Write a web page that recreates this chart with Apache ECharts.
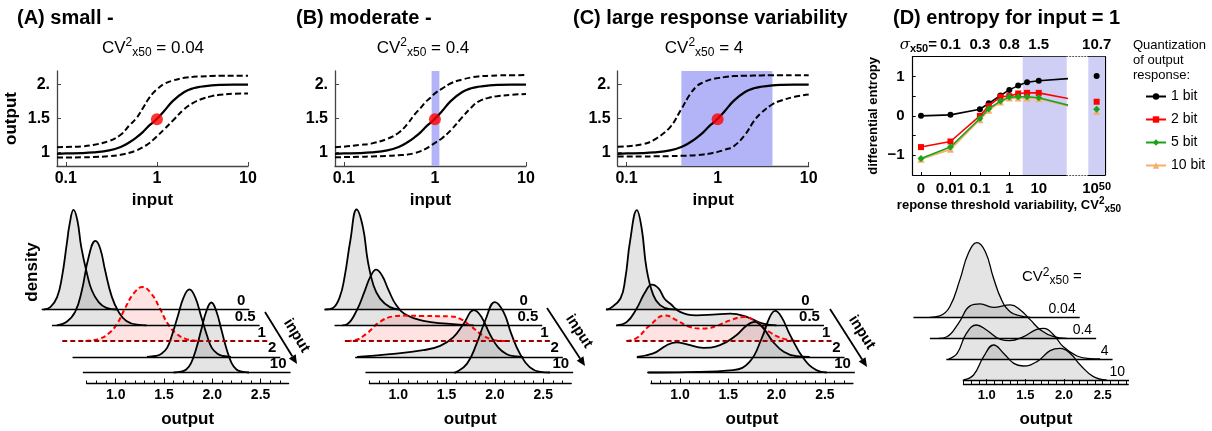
<!DOCTYPE html>
<html>
<head>
<meta charset="utf-8">
<script src="https://cdn.jsdelivr.net/npm/echarts@6/dist/echarts.min.js"></script>
<style>
  html, body { margin: 0; padding: 0; background: #fff; }
  #main { width: 1212px; height: 431px; }
</style>
</head>
<body>
<div id="main"></div>
<script>
const FONT = '"Liberation Sans", Arial, sans-serif';

// ---- top row: input -> output curves (input on a log axis) ----
const inputGrid = [0.08, 0.1, 0.15, 0.2, 0.3, 0.4, 0.5, 0.6, 0.7, 0.8, 0.9, 1, 1.2, 1.5, 2, 2.5, 3, 4, 5, 7, 10];
const solidOut = [0.98, 0.985, 0.99, 1.0, 1.03, 1.08, 1.15, 1.225, 1.3, 1.38, 1.44, 1.495, 1.61, 1.76, 1.89, 1.945, 1.968, 1.988, 1.995, 1.999, 2.0];
const upperA = [1.076, 1.08, 1.09, 1.11, 1.17, 1.26, 1.4, 1.51, 1.65, 1.78, 1.87, 1.93, 2.01, 2.06, 2.1, 2.115, 2.12, 2.127, 2.13, 2.13, 2.13];
const lowerA = [0.925, 0.926, 0.928, 0.932, 0.945, 0.965, 0.995, 1.03, 1.075, 1.125, 1.18, 1.235, 1.34, 1.47, 1.64, 1.73, 1.78, 1.83, 1.85, 1.865, 1.87];
const upperB = [1.078, 1.085, 1.11, 1.13, 1.2, 1.29, 1.42, 1.56, 1.66, 1.75, 1.81, 1.87, 1.94, 2.02, 2.075, 2.105, 2.12, 2.13, 2.135, 2.138, 2.14];
const lowerB = [0.93, 0.931, 0.935, 0.94, 0.948, 0.958, 0.968, 0.99, 1.02, 1.055, 1.1, 1.14, 1.21, 1.33, 1.52, 1.66, 1.75, 1.81, 1.83, 1.85, 1.86];
const upperC = [1.085, 1.09, 1.12, 1.185, 1.37, 1.64, 1.86, 1.985, 2.035, 2.065, 2.085, 2.095, 2.11, 2.125, 2.13, 2.133, 2.135, 2.136, 2.136, 2.137, 2.137];
const lowerC = [0.94, 0.94, 0.94, 0.942, 0.945, 0.95, 0.955, 0.962, 0.97, 0.98, 0.995, 1.008, 1.04, 1.09, 1.26, 1.46, 1.58, 1.71, 1.765, 1.82, 1.853];
const midPoint = [1, 1.49];
const bandB = [0.92, 1.12];
const bandC = [0.4, 4];
const outTickValues = [1, 1.5, 2];
const outTickLabels = ['1', '1.5', '2.'];

// ---- densities of output for each input (output, density) ----
const ridgeNames = ['0', '0.5', '1', '2', '10'];
const ridgeA0 = [[0.68,0],[0.75,0.12],[0.82,0.62],[0.87,1.62],[0.92,3.28],[0.95,4.28],[0.99,4.98],[1.03,4.45],[1.07,3.12],[1.13,1.78],[1.18,0.95],[1.25,0.37],[1.33,0.08],[1.44,0]];
const ridgeA05 = [[0.71,0],[0.81,0.17],[0.9,0.67],[0.97,1.75],[1.04,3.42],[1.11,4.22],[1.16,3.83],[1.21,2.75],[1.28,1.42],[1.35,0.67],[1.43,0.22],[1.54,0.03],[1.64,0]];
const ridgeA1 = [[0.9,0],[0.96,0.03],[1.05,0.12],[1.14,0.37],[1.23,0.88],[1.31,1.64],[1.4,2.38],[1.49,2.7],[1.58,2.38],[1.67,1.64],[1.75,0.88],[1.84,0.37],[1.93,0.12],[2.02,0.03],[2.1,0]];
const ridgeA2 = [[1.43,0],[1.52,0.04],[1.58,0.15],[1.64,0.46],[1.69,1.09],[1.75,2.04],[1.81,2.97],[1.87,3.37],[1.93,2.97],[1.99,2.04],[2.05,1.09],[2.1,0.46],[2.16,0.15],[2.22,0.04],[2.3,0]];
const ridgeA10 = [[1.6,0],[1.675,0.04],[1.73,0.15],[1.78,0.47],[1.83,1.14],[1.885,2.12],[1.94,3.09],[1.99,3.5],[2.04,3.09],[2.095,2.12],[2.15,1.14],[2.2,0.47],[2.25,0.15],[2.305,0.04],[2.38,0]];

const ridgeB0 = [[0.67,0],[0.75,0.08],[0.82,0.62],[0.87,1.62],[0.93,3.45],[0.995,5.0],[1.06,4.12],[1.11,2.45],[1.17,1.2],[1.24,0.53],[1.34,0.12],[1.44,0]];
const ridgeB05 = [[0.74,0],[0.79,0.05],[0.89,0.75],[0.975,1.75],[1.03,2.42],[1.09,2.78],[1.15,2.5],[1.22,1.75],[1.3,1.0],[1.41,0.5],[1.58,0.22],[1.82,0.08],[1.99,0.02],[2.1,0]];
const ridgeB1 = [[0.68,0],[0.76,0.03],[0.885,0.37],[1.02,0.95],[1.16,1.23],[1.27,1.27],[1.47,1.25],[1.75,1.23],[1.85,1.12],[1.955,0.78],[2.09,0.28],[2.23,0.03],[2.33,0]];
const ridgeB2 = [[0.68,0],[1.02,0.13],[1.365,0.33],[1.54,0.55],[1.675,0.97],[1.78,1.63],[1.89,2.33],[1.97,1.97],[2.055,1.13],[2.14,0.47],[2.23,0.13],[2.33,0.02],[2.4,0]];
const ridgeB10 = [[1.58,0],[1.6,0.02],[1.71,0.43],[1.81,1.43],[1.9,2.6],[2.0,3.52],[2.09,3.02],[2.17,1.93],[2.26,0.93],[2.36,0.27],[2.47,0.03],[2.57,0]];

const ridgeC0 = [[0.66,0],[0.7,0.05],[0.81,0.55],[0.86,1.55],[0.91,3.43],[0.98,4.97],[1.03,4.05],[1.08,2.05],[1.15,0.72],[1.22,0.22],[1.32,0.02],[1.4,0]];
const ridgeC05 = [[0.66,0],[0.77,0.17],[0.87,0.83],[0.96,1.67],[1.03,2.03],[1.1,1.83],[1.16,1.33],[1.22,1.08],[1.32,0.67],[1.49,0.5],[1.66,0.53],[1.84,0.58],[2.01,0.42],[2.18,0.08],[2.32,0]];
const ridgeC1 = [[0.66,0],[0.765,0.15],[0.9,0.78],[1.06,1.28],[1.18,1.03],[1.32,0.7],[1.45,0.62],[1.59,0.75],[1.73,1.03],[1.87,1.2],[2.01,0.95],[2.14,0.45],[2.28,0.12],[2.42,0]];
const ridgeC2 = [[0.66,0],[0.83,0.17],[0.97,0.58],[1.07,0.72],[1.18,0.62],[1.35,0.45],[1.52,0.58],[1.69,1.08],[1.8,1.58],[1.88,1.75],[1.97,1.42],[2.07,0.75],[2.18,0.25],[2.31,0.03],[2.45,0]];
const ridgeC10 = [[0.67,0],[1.07,0.02],[1.55,0.12],[1.72,0.53],[1.845,1.7],[1.93,2.78],[1.985,3.08],[2.05,2.78],[2.14,1.87],[2.28,0.7],[2.41,0.12],[2.52,0]];

// panel D: input = 1, several threshold variabilities
const ridgeNamesD = ['0.04', '0.4', '4', '10'];
const ridgeD004 = [[0.9,0],[1.03,0.07],[1.16,0.53],[1.29,1.87],[1.4,3.2],[1.51,3.73],[1.62,3.28],[1.72,2.03],[1.83,0.87],[1.94,0.28],[2.07,0.07],[2.2,0]];
const ridgeD04 = [[0.8,0],[0.91,0.08],[1.06,0.75],[1.21,1.62],[1.34,1.72],[1.51,1.55],[1.73,1.67],[1.86,1.42],[1.99,0.92],[2.12,0.42],[2.29,0.08],[2.46,0]];
const ridgeD4 = [[0.72,0],[0.83,0.28],[0.95,1.28],[1.08,1.7],[1.21,1.45],[1.39,0.98],[1.51,0.92],[1.69,1.12],[1.86,1.48],[1.95,1.53],[2.08,1.2],[2.2,0.62],[2.38,0.15],[2.55,0.02],[2.68,0]];
const ridgeD10 = [[0.7,0],[0.83,0.25],[0.96,1.17],[1.09,1.75],[1.22,1.33],[1.35,0.83],[1.47,0.7],[1.65,0.92],[1.82,1.47],[1.95,1.58],[2.08,1.33],[2.21,0.75],[2.38,0.17],[2.55,0]];

const outputTicks = [1.0, 1.5, 2.0, 2.5];
const outputMinor = [0.7, 0.8, 0.9, 1.0, 1.1, 1.2, 1.3, 1.4, 1.5, 1.6, 1.7, 1.8, 1.9, 2.0, 2.1, 2.2, 2.3, 2.4, 2.5, 2.6, 2.7, 2.8];

// ---- panel D: differential entropy vs CV^2 (0 is drawn at 1e-3) ----
const cv2Pos = [0.001, 0.01, 0.1, 0.2, 0.5, 1, 2, 4, 10, 100];
const bit1 = [0.0, 0.025, 0.167, 0.317, 0.517, 0.658, 0.767, 0.85, 0.892, 0.945];
const bit2 = [-0.792, -0.65, 0.0, 0.25, 0.483, 0.5, 0.567, 0.583, 0.583, 0.44];
const bit5 = [-1.083, -0.792, -0.067, 0.183, 0.375, 0.475, 0.483, 0.483, 0.458, 0.27];
const bit10 = [-1.1, -0.85, -0.1, 0.142, 0.35, 0.45, 0.45, 0.45, 0.433, 0.25];
const farCategory = ['1e50'];
const bitFar = [1.008, 0.358, 0.167, 0.108];   // 1, 2, 5, 10 bit at CV^2 = 1e50
const cvTickExp = [-3, -2, -1, 0, 1];
const cvTickText = ['0', '0.01', '0.1', '1', '10'];
const sigmaTickText = ['', '0.1', '0.3', '0.8', '1.5'];
const sigmaFar = '10.7';
const bandD = [2.84, 89];
const entropyTicks = [-1, 0, 1];
const entropyTickText = ['\u22121', '0', '1'];

const grid = [], xAxis = [], yAxis = [], series = [], graphic = [];

function addGrid(g) {
  grid.push(Object.assign({ containLabel: false, outerBoundsMode: 'none' }, g));
  return grid.length - 1;
}
const bold = (size) => ({ fontFamily: FONT, fontWeight: 'bold', fontSize: size, color: '#000' });

function txt(x, y, text, style, rot) {
  graphic.push({
    type: 'text', x: x, y: y, rotation: rot || 0, silent: true,
    style: Object.assign({ text: text, fill: '#000', fontFamily: FONT, fontSize: 16,
      fontWeight: 'normal', align: 'left', verticalAlign: 'middle' }, style)
  });
}
const cvRich = {
  sup: { fontSize: 12, verticalAlign: 'top', lineHeight: 14, fontFamily: FONT },
  sub: { fontSize: 12, verticalAlign: 'bottom', lineHeight: 14, fontFamily: FONT }
};

function curvePanel(left, upper, lower, band, yName) {
  const gi = addGrid({ left: left, top: 71, width: 191, height: 95 });
  xAxis.push({
    type: 'log', gridIndex: gi, min: 0.08, max: 10, logBase: 10, position: 'bottom',
    axisLine: { onZero: false, lineStyle: { color: '#444', width: 1.3 } },
    axisTick: { inside: true, length: 4, lineStyle: { color: '#444' } },
    splitLine: { show: false },
    axisLabel: Object.assign({ showMinLabel: false, margin: 5 }, bold(16)),
    name: 'input', nameLocation: 'middle', nameGap: 26, nameMoveOverlap: false,
    nameTextStyle: bold(17)
  });
  const xi = xAxis.length - 1;
  yAxis.push({
    type: 'value', gridIndex: gi, min: 0.8, max: 2.2,
    axisLine: { show: true, onZero: false, lineStyle: { color: '#444', width: 1.3 } },
    axisTick: { show: true, inside: true, length: 4, customValues: outTickValues, lineStyle: { color: '#444' } },
    splitLine: { show: false },
    axisLabel: Object.assign({ customValues: outTickValues, margin: 7,
      formatter: v => { const k = outTickValues.indexOf(v); return k >= 0 ? outTickLabels[k] : ''; } }, bold(16)),
    name: yName, nameLocation: 'middle', nameGap: 37, nameMoveOverlap: false, nameTextStyle: bold(17)
  });
  const yi = yAxis.length - 1;
  const pairs = arr => inputGrid.map((x, i) => [x, arr[i]]);
  const base = { type: 'line', xAxisIndex: xi, yAxisIndex: yi, smooth: 0.4, showSymbol: false,
    symbol: 'none', silent: true, z: 3 };
  series.push(Object.assign({}, base, {
    data: pairs(upper), lineStyle: { color: '#000', width: 2, type: [6, 3] },
    markArea: band ? { silent: true, itemStyle: { color: '#b3b3f8', opacity: 1 },
      data: [[{ xAxis: band[0] }, { xAxis: band[1] }]] } : undefined
  }));
  series.push(Object.assign({}, base, { data: pairs(solidOut), lineStyle: { color: '#000', width: 2.2 } }));
  series.push(Object.assign({}, base, { data: pairs(lower), lineStyle: { color: '#000', width: 2, type: [6, 3] } }));
  series.push({ type: 'scatter', xAxisIndex: xi, yAxisIndex: yi, data: [midPoint], symbolSize: 12,
    itemStyle: { color: '#f00' }, silent: true, z: 5 });
}

function ridgePanel(o) {
  const n = o.ridges.length;
  o.ridges.forEach((data, i) => {
    const shift = (n - 1 - i) * o.step;
    const gi = addGrid({ left: o.frontLeft - shift, top: o.baselines[i] - 100, width: o.width, height: 100 });
    xAxis.push({ type: 'value', gridIndex: gi, min: o.vMin, max: o.vMax, show: false, position: 'bottom' });
    yAxis.push({ type: 'value', gridIndex: gi, min: 0, max: 5, show: false });
    const red = i === o.redIndex;
    series.push({
      type: 'line', xAxisIndex: xAxis.length - 1, yAxisIndex: yAxis.length - 1,
      data: data, smooth: 0.45, showSymbol: false, symbol: 'none',
      clip: false, silent: true,
      lineStyle: red ? { color: '#f00', width: 2, type: [5, 3] } : { color: '#000', width: o.lineWidth },
      areaStyle: { color: red ? 'rgba(255,0,0,0.16)' : 'rgba(0,0,0,0.15)' },
      markLine: {
        silent: true, symbol: 'none', data: [{ yAxis: 0 }],
        lineStyle: red ? { color: '#9a0000', width: 2, type: [5, 3] } : { color: '#000', width: 1.3, type: 'solid' },
        label: Object.assign({ show: true, position: 'insideEndTop', formatter: o.names[i], distance: [4, 1] },
          o.labelStyle)
      }
    });
  });
  const gi = addGrid({ left: o.axisLeft, top: o.axisY - 20, width: o.axisWidth, height: 20 });
  xAxis.push({
    type: 'value', gridIndex: gi, min: o.axisMin, max: o.axisMax, position: 'bottom',
    axisLine: { show: true, onZero: false, lineStyle: { color: '#000', width: 1.3 } },
    axisTick: { show: true, inside: true, length: 3, customValues: outputMinor, lineStyle: { color: '#000' } },
    axisLabel: { show: false }, splitLine: { show: false }
  });
  xAxis.push({
    type: 'value', gridIndex: gi, min: o.axisMin, max: o.axisMax, position: 'bottom',
    axisLine: { show: false, onZero: false },
    axisTick: { show: true, inside: true, length: 5, customValues: outputTicks, lineStyle: { color: '#000' } },
    axisLabel: Object.assign({ customValues: outputTicks, margin: 5, formatter: v => v.toFixed(1) }, bold(o.tickSize)),
    splitLine: { show: false },
    name: 'output', nameLocation: 'middle', nameGap: 27, nameMoveOverlap: false, nameTextStyle: bold(17)
  });
  yAxis.push({ type: 'value', gridIndex: gi, show: false });
  series.push({ type: 'line', xAxisIndex: xAxis.length - 1, yAxisIndex: yAxis.length - 1, data: [] });
}

function arrow(x1, y1, x2, y2) {
  const a = Math.atan2(y2 - y1, x2 - x1), L = 9, W = 4;
  const bx = x2 - L * Math.cos(a), by = y2 - L * Math.sin(a);
  graphic.push({ type: 'line', silent: true, shape: { x1: x1, y1: y1, x2: bx, y2: by },
    style: { stroke: '#000', lineWidth: 1.8 } });
  graphic.push({ type: 'polygon', silent: true,
    shape: { points: [[x2, y2], [bx - W * Math.sin(a), by + W * Math.cos(a)], [bx + W * Math.sin(a), by - W * Math.cos(a)]] },
    style: { fill: '#000' } });
  txt(x1 + 22, y1 + 8, 'input', { fontWeight: 'bold', fontSize: 15 }, -a);
}

// ---- panels A, B, C ----
curvePanel(57, upperA, lowerA, null, 'output');
curvePanel(335, upperB, lowerB, bandB, '');
curvePanel(617.7, upperC, lowerC, bandC, '');

const baselines = [309.5, 325.3, 341, 356.8, 372.5];
const ridgeLabel = bold(15);
[
  { one: 115.7, ridges: [ridgeA0, ridgeA05, ridgeA1, ridgeA2, ridgeA10] },
  { one: 398.3, ridges: [ridgeB0, ridgeB05, ridgeB1, ridgeB2, ridgeB10] },
  { one: 680, ridges: [ridgeC0, ridgeC05, ridgeC1, ridgeC2, ridgeC10] }
].forEach(p => {
  ridgePanel({
    ridges: p.ridges, names: ridgeNames, redIndex: 2, baselines: baselines,
    frontLeft: p.one - 0.34 * 96.6, width: 2.15 * 96.6, step: 10.3, vMin: 0.66, vMax: 2.81,
    lineWidth: 1.8, labelStyle: ridgeLabel,
    axisLeft: p.one - 0.3 * 96.6, axisWidth: 2.09 * 96.6, axisMin: 0.7, axisMax: 2.79, axisY: 383.5, tickSize: 14
  });
});

// ---- panel D ridges ----
ridgePanel({
  ridges: [ridgeD004, ridgeD04, ridgeD4, ridgeD10], names: ridgeNamesD, redIndex: -1,
  baselines: [317.3, 338.3, 359, 380],
  frontLeft: 986.7 - 0.31 * 77.33, width: 2.15 * 77.33, step: 16.43, vMin: 0.69, vMax: 2.84,
  lineWidth: 1.3, labelStyle: { fontFamily: FONT, fontSize: 14, color: '#000' },
  axisLeft: 986.7 - 0.3 * 77.33, axisWidth: 2.13 * 77.33, axisMin: 0.7, axisMax: 2.83, axisY: 384, tickSize: 13
});

// ---- panel D entropy ----
const eTop = 56.7, eH = 118.3;
const gMain = addGrid({ left: 912.7, top: eTop, width: 154, height: eH });
const gGap = addGrid({ left: 1066.7, top: eTop, width: 21.6, height: eH });
const gFar = addGrid({ left: 1088.3, top: eTop, width: 16.7, height: eH });

const expOf = v => Math.round(Math.log10(v));
const near = v => Math.abs(Math.log10(v) - expOf(v)) < 0.01;
xAxis.push({
  type: 'log', gridIndex: gMain, min: 0.000522, max: 89, logBase: 10, position: 'bottom',
  axisLine: { onZero: false, lineStyle: { color: '#000', width: 1.2 } },
  axisTick: { inside: true, length: 3, lineStyle: { color: '#000' } },
  splitLine: { show: false },
  axisLabel: Object.assign({ showMinLabel: false, showMaxLabel: false, margin: 6,
    formatter: v => { const k = cvTickExp.indexOf(expOf(v)); return near(v) && k >= 0 ? cvTickText[k] : ''; } }, bold(15))
});
const xMain = xAxis.length - 1;
xAxis.push({
  type: 'log', gridIndex: gMain, min: 0.000522, max: 89, logBase: 10, position: 'top',
  axisLine: { onZero: false, lineStyle: { color: '#000', width: 1.2 } },
  axisTick: { show: false }, splitLine: { show: false },
  axisLabel: Object.assign({ showMinLabel: false, showMaxLabel: false, margin: 4,
    formatter: v => { const k = cvTickExp.indexOf(expOf(v)); return near(v) && k >= 0 ? sigmaTickText[k] : ''; } }, bold(15))
});
yAxis.push({
  type: 'value', gridIndex: gMain, min: -1.5, max: 1.5, interval: 0.5,
  axisLine: { show: true, onZero: false, lineStyle: { color: '#000', width: 1.2 } },
  axisTick: { show: true, inside: true, length: 3, lineStyle: { color: '#000' } },
  splitLine: { show: false },
  axisLabel: Object.assign({ margin: 8, formatter: v => { const k = entropyTicks.indexOf(v); return k >= 0 ? entropyTickText[k] : ''; } }, bold(15)),
  name: 'differential entropy', nameLocation: 'middle', nameGap: 33, nameMoveOverlap: false, nameTextStyle: bold(13)
});
const yMain = yAxis.length - 1;

// broken-axis gap: dotted frame only
xAxis.push({ type: 'value', gridIndex: gGap, min: 0, max: 1, position: 'bottom',
  axisLine: { onZero: false, lineStyle: { color: '#555', width: 1.2, type: [1, 2] } }, axisTick: { show: false }, axisLabel: { show: false }, splitLine: { show: false } });
const xGap = xAxis.length - 1;
xAxis.push({ type: 'value', gridIndex: gGap, min: 0, max: 1, position: 'top',
  axisLine: { onZero: false, lineStyle: { color: '#555', width: 1.2, type: [1, 2] } }, axisTick: { show: false }, axisLabel: { show: false }, splitLine: { show: false } });
yAxis.push({ type: 'value', gridIndex: gGap, show: false, min: -1.5, max: 1.5 });
const yGap = yAxis.length - 1;
series.push({ type: 'line', xAxisIndex: xGap, yAxisIndex: yGap, data: [] });

// far point at CV^2 = 1e50
xAxis.push({ type: 'category', gridIndex: gFar, data: farCategory, position: 'bottom',
  axisLine: { onZero: false, lineStyle: { color: '#000', width: 1.2 } }, axisTick: { show: false }, splitLine: { show: false },
  axisLabel: Object.assign({ margin: 6, formatter: () => '10{s|50}',
    rich: { s: { fontSize: 11, fontWeight: 'bold', fontFamily: FONT, verticalAlign: 'top', lineHeight: 10 } } }, bold(15)) });
const xFar = xAxis.length - 1;
xAxis.push({ type: 'category', gridIndex: gFar, data: farCategory, position: 'top',
  axisLine: { onZero: false, lineStyle: { color: '#000', width: 1.2 } }, axisTick: { show: false }, splitLine: { show: false },
  axisLabel: Object.assign({ margin: 4, formatter: () => sigmaFar }, bold(15)) });
yAxis.push({ type: 'value', gridIndex: gFar, min: -1.5, max: 1.5, interval: 0.5, position: 'right',
  axisLine: { show: true, onZero: false, lineStyle: { color: '#000', width: 1.2 } },
  axisTick: { show: true, inside: true, length: 3, lineStyle: { color: '#000' } },
  axisLabel: { show: false }, splitLine: { show: false } });
const yFar = yAxis.length - 1;

const bitSeries = [
  { name: '1 bit', vals: bit1, far: bitFar[0], color: '#000', symbol: 'circle', size: 6 },
  { name: '2 bit', vals: bit2, far: bitFar[1], color: '#f00', symbol: 'rect', size: 6 },
  { name: '10 bit', vals: bit10, far: bitFar[3], color: '#f7ae6a', symbol: 'triangle', size: 7 },
  { name: '5 bit', vals: bit5, far: bitFar[2], color: '#1aa31a', symbol: 'diamond', size: 7 }
];
bitSeries.forEach((b, i) => {
  series.push({
    name: b.name, type: 'line', xAxisIndex: xMain, yAxisIndex: yMain,
    data: cv2Pos.map((x, k) => [x, b.vals[k]]),
    symbol: b.symbol, symbolSize: b.size, showSymbol: true, silent: true,
    itemStyle: { color: b.color }, lineStyle: { color: b.color, width: 1.6 }, z: 3 + i,
    markArea: i === 0 ? { silent: true, itemStyle: { color: '#cfcff5', opacity: 1 },
      data: [[{ xAxis: bandD[0] }, { xAxis: bandD[1] }]] } : undefined
  });
  series.push({
    name: b.name, type: 'line', xAxisIndex: xFar, yAxisIndex: yFar, data: [b.far],
    symbol: b.symbol, symbolSize: b.size, showSymbol: true, silent: true,
    itemStyle: { color: b.color }, z: 3 + i,
    markArea: i === 0 ? { silent: true, itemStyle: { color: '#cfcff5', opacity: 1 },
      data: [[{ yAxis: -1.5 }, { yAxis: 1.5 }]] } : undefined
  });
});

// ---- text ----
txt(17, 18, '(A) small -', { fontWeight: 'bold', fontSize: 20 });
txt(296, 18, '(B) moderate -', { fontWeight: 'bold', fontSize: 20 });
txt(573, 18, '(C) large response variability', { fontWeight: 'bold', fontSize: 20 });
txt(893, 18, '(D) entropy for input = 1', { fontWeight: 'bold', fontSize: 20 });
txt(153, 48, 'CV{sup|2}{sub|x50} = 0.04', { fontSize: 17, align: 'center', lineHeight: 22, rich: cvRich });
txt(423, 48, 'CV{sup|2}{sub|x50} = 0.4', { fontSize: 17, align: 'center', lineHeight: 22, rich: cvRich });
txt(704, 48, 'CV{sup|2}{sub|x50} = 4', { fontSize: 17, align: 'center', lineHeight: 22, rich: cvRich });
txt(32, 272, 'density', { fontWeight: 'bold', fontSize: 17, align: 'center' }, Math.PI / 2);
arrow(265, 312, 297, 364);
arrow(547, 308, 585, 366);
arrow(830, 309, 867, 367);
txt(1022, 277, 'CV{sup|2}{sub|x50} =', { fontSize: 15, lineHeight: 20, rich: cvRich });
txt(1133, 38, 'Quantization\nof output\nresponse:', { fontSize: 13, lineHeight: 15, verticalAlign: 'top' });
txt(937, 45, '{sg|\u03c3}{sub|x50}=', { fontWeight: 'bold', fontSize: 15, align: 'right', lineHeight: 18,
  rich: { sg: { fontFamily: '"DejaVu Serif", serif', fontStyle: 'italic', fontSize: 15, lineHeight: 18 },
          sub: { fontSize: 11, fontWeight: 'bold', verticalAlign: 'bottom', lineHeight: 12, fontFamily: FONT } } });
txt(1009, 205, 'reponse threshold variability, CV{sup|2}{sub|x50}', { fontWeight: 'bold', fontSize: 13, align: 'center',
  lineHeight: 18, rich: { sup: { fontSize: 10, fontWeight: 'bold', verticalAlign: 'top', lineHeight: 11, fontFamily: FONT },
                          sub: { fontSize: 10, fontWeight: 'bold', verticalAlign: 'bottom', lineHeight: 11, fontFamily: FONT } } });

const chart = echarts.init(document.getElementById('main'));
chart.setOption({
  animation: false,
  backgroundColor: '#fff',
  legend: {
    data: ['1 bit', '2 bit', '5 bit', '10 bit'],
    orient: 'vertical', left: 1140, top: 84, itemWidth: 20, itemHeight: 8, itemGap: 8,
    textStyle: { fontFamily: FONT, fontSize: 14, color: '#000', lineHeight: 15 },
    selectedMode: false
  },
  grid: grid, xAxis: xAxis, yAxis: yAxis, series: series, graphic: graphic
});
</script>
</body>
</html>
